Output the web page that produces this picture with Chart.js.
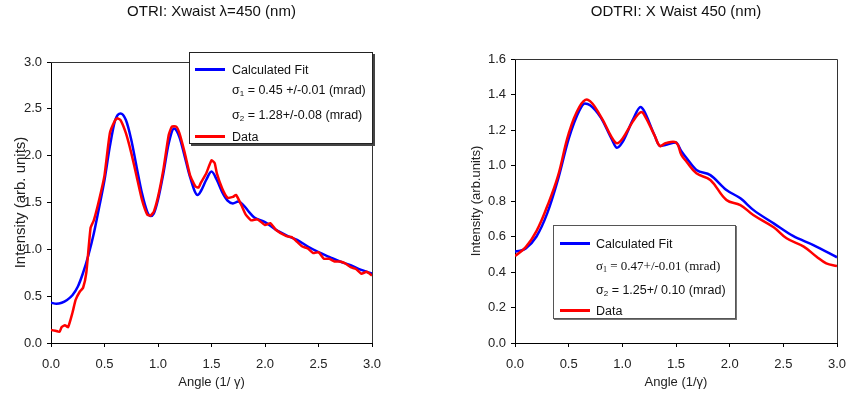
<!DOCTYPE html>
<html>
<head>
<meta charset="utf-8">
<script src="https://cdn.jsdelivr.net/npm/chart.js@4.4.1/dist/chart.umd.min.js"></script>
<style>
  body { margin:0; background:#fff; font-family:"Liberation Sans", Arial, sans-serif; }
  #wrap { position:relative; width:847px; height:400px; overflow:hidden; }
  .panel { position:absolute; top:0; height:400px; }
  .legend { position:absolute; background:#fff; border:1px solid #222; color:#111; }
  .legend .row { position:absolute; left:0; right:0; height:20px; line-height:20px; font-size:12.5px; white-space:nowrap; }
  .legend .swatch { position:absolute; top:8px; width:30px; height:3px; }
  .legend .txt { position:absolute; }
  .legend sub { font-size:8px; vertical-align:-2px; line-height:0; }
</style>
</head>
<body>
<div id="wrap">
  <div class="panel" style="left:0;width:424px">
    <canvas id="otriChart" width="424" height="400"></canvas>
    <div class="legend" style="left:189px;top:52px;width:182px;height:90px;box-shadow:2px 2px 0 #444">
      <div class="row" style="top:7px"><span class="swatch" style="left:5px;background:#0000ff"></span><span class="txt" style="left:42px">Calculated Fit</span></div>
      <div class="row" style="top:27px"><span class="txt" style="left:42px">σ<sub>1</sub> = 0.45 +/-0.01 (mrad)</span></div>
      <div class="row" style="top:52px"><span class="txt" style="left:42px">σ<sub>2</sub> = 1.28+/-0.08 (mrad)</span></div>
      <div class="row" style="top:74px"><span class="swatch" style="left:5px;background:#ff0000"></span><span class="txt" style="left:42px">Data</span></div>
    </div>
  </div>
  <div class="panel" style="left:424px;width:423px">
    <canvas id="odtriChart" width="423" height="400"></canvas>
    <div class="legend" style="left:129px;top:225px;width:181px;height:92px;border-color:#555;box-shadow:1px 1px 0 #777">
      <div class="row" style="top:8px"><span class="swatch" style="left:6px;background:#0000ff"></span><span class="txt" style="left:42px">Calculated Fit</span></div>
      <div class="row" style="top:30px"><span class="txt" style="left:42px;font-family:'Liberation Serif','Times New Roman',serif;font-size:13px">σ<sub>1</sub> = 0.47+/-0.01 (mrad)</span></div>
      <div class="row" style="top:54px"><span class="txt" style="left:42px">σ<sub>2</sub> = 1.25+/ 0.10 (mrad)</span></div>
      <div class="row" style="top:75px"><span class="swatch" style="left:6px;background:#ff0000"></span><span class="txt" style="left:42px">Data</span></div>
    </div>
  </div>
</div>
<script>
// ---- OTRI (left panel) ----
const otriFitAngle = [0,0.05,0.1,0.15,0.2,0.25,0.3,0.35,0.4,0.45,0.5,0.55,0.6,0.65,0.7,0.75,0.8,0.85,0.9,0.93,0.96,1.0,1.05,1.1,1.15,1.2,1.25,1.3,1.37,1.4,1.45,1.5,1.55,1.6,1.65,1.7,1.75,1.8,1.85,1.9,2.0,2.1,2.2,2.3,2.4,2.5,2.6,2.7,2.8,2.9,3.0];
const otriFit = [0.43,0.42,0.43,0.46,0.51,0.6,0.75,0.94,1.17,1.45,1.74,2.1,2.38,2.45,2.38,2.17,1.88,1.6,1.4,1.355,1.38,1.53,1.81,2.13,2.29,2.2,1.99,1.77,1.58,1.62,1.74,1.83,1.74,1.61,1.52,1.49,1.51,1.47,1.4,1.34,1.29,1.21,1.15,1.1,1.03,0.97,0.92,0.87,0.83,0.78,0.74];

const otriDataAngle = [0,0.04,0.08,0.1,0.13,0.16,0.2,0.23,0.27,0.3,0.33,0.37,0.4,0.45,0.5,0.55,0.6,0.62,0.65,0.7,0.75,0.8,0.85,0.9,0.93,0.96,1.0,1.05,1.1,1.13,1.17,1.2,1.25,1.3,1.35,1.38,1.4,1.45,1.5,1.53,1.55,1.6,1.65,1.7,1.73,1.78,1.82,1.87,1.93,2.0,2.05,2.1,2.2,2.25,2.3,2.35,2.4,2.45,2.5,2.55,2.6,2.65,2.7,2.75,2.8,2.85,2.9,2.95,3.0];
const otriData = [0.14,0.13,0.12,0.17,0.19,0.17,0.32,0.46,0.55,0.59,0.75,1.23,1.31,1.53,1.79,2.24,2.38,2.4,2.38,2.24,2.03,1.78,1.53,1.37,1.36,1.4,1.56,1.85,2.22,2.31,2.31,2.24,2.03,1.79,1.67,1.66,1.71,1.81,1.95,1.92,1.81,1.65,1.55,1.56,1.58,1.47,1.37,1.31,1.32,1.26,1.28,1.21,1.14,1.13,1.08,1.03,1.01,0.96,0.97,0.9,0.9,0.87,0.87,0.85,0.81,0.79,0.74,0.76,0.72];

// ---- ODTRI (right panel) ----
const odtriFitAngle = [0,0.05,0.1,0.2,0.3,0.4,0.5,0.6,0.65,0.7,0.8,0.9,0.95,1.0,1.1,1.17,1.2,1.3,1.35,1.4,1.5,1.55,1.6,1.69,1.82,1.97,2.1,2.22,2.41,2.59,2.78,3.0];
const odtriFit = [0.515,0.52,0.533,0.6,0.73,0.92,1.15,1.31,1.35,1.34,1.27,1.15,1.1,1.13,1.26,1.33,1.31,1.17,1.11,1.115,1.13,1.08,1.04,0.975,0.946,0.862,0.815,0.75,0.674,0.603,0.552,0.483];

const odtriDataAngle = [0,0.1,0.2,0.3,0.4,0.5,0.6,0.68,0.8,0.9,0.95,1.0,1.1,1.17,1.2,1.3,1.35,1.4,1.5,1.55,1.6,1.69,1.82,1.97,2.1,2.22,2.41,2.53,2.69,2.81,2.9,3.0];
const odtriData = [0.49,0.54,0.63,0.77,0.94,1.18,1.33,1.37,1.275,1.16,1.125,1.15,1.25,1.3,1.29,1.17,1.11,1.125,1.13,1.06,1.02,0.956,0.918,0.806,0.777,0.721,0.652,0.59,0.543,0.486,0.449,0.434];

// tick labels / ranges
const angleTicks = { min: 0, max: 3, step: 0.5 };
const otriTicks = { min: 0, max: 3, step: 0.5 };
const odtriTicks = { min: 0, max: 1.6, step: 0.2 };

const FONT = "'Liberation Sans', Arial, sans-serif";

// draws the top + right frame of the plot box
const frameBox = {
  id: "frameBox",
  afterDraw(chart, args, opts){
    const a = chart.chartArea, c = chart.ctx;
    c.save();
    c.strokeStyle = opts.color || "#333";
    c.lineWidth = 1;
    c.beginPath();
    c.moveTo(a.left, a.top + 0.5);
    c.lineTo(a.right + 0.5, a.top + 0.5);
    c.lineTo(a.right + 0.5, a.bottom);
    c.stroke();
    c.restore();
  }
};

function pts(xs, ys){ return xs.map((x, i) => ({ x: x, y: ys[i] })); }

function makeChart(id, cfg){
  const ctx = document.getElementById(id).getContext("2d");
  return new Chart(ctx, {
    type: "line",
    data: {
      datasets: [
        { label: "Data", data: pts(cfg.dataX, cfg.dataY), borderColor: "#ff0000", borderWidth: 2.5,
          pointRadius: 0, tension: cfg.dataTension, order: 0 },
        { label: "Calculated Fit", data: pts(cfg.fitX, cfg.fitY), borderColor: "#0000ff", borderWidth: 2.5,
          pointRadius: 0, tension: 0.4, cubicInterpolationMode: "monotone", order: 1 }
      ]
    },
    plugins: [frameBox],
    options: {
      responsive: false,
      animation: false,
      layout: { padding: { left: 0, right: cfg.padRight, top: 0, bottom: 0 } },
      plugins: {
        legend: { display: false },
        tooltip: { enabled: false },
        frameBox: { color: "#333" },
        title: {
          display: true,
          fullSize: false,
          text: cfg.title,
          color: "#111",
          font: { family: FONT, size: 15, weight: "normal" },
          padding: { top: 3, bottom: cfg.titleGap }
        }
      },
      scales: {
        x: {
          type: "linear",
          min: angleTicks.min, max: angleTicks.max,
          afterFit: s => { s.height = 57; s.paddingLeft = 0; s.paddingRight = 0; },
          border: { display: true, color: "#000", width: 1 },
          grid: { display: true, drawOnChartArea: false, drawTicks: true, tickLength: 4, color: "#000" },
          ticks: { stepSize: angleTicks.step, padding: 10, color: "#222", font: { family: FONT, size: 13 },
                   callback: v => Number(v).toFixed(1) },
          title: { display: true, text: cfg.xTitle, color: "#222", font: { family: FONT, size: 13 },
                   padding: { top: 0, bottom: 10 } }
        },
        y: {
          min: cfg.yTicks.min, max: cfg.yTicks.max,
          afterFit: s => { s.width = cfg.yWidth; s.paddingTop = 0; s.paddingBottom = 0; },
          border: { display: true, color: "#000", width: 1 },
          grid: { display: true, drawOnChartArea: false, drawTicks: true, tickLength: 4, color: "#000" },
          ticks: { stepSize: cfg.yTicks.step, padding: 5, color: "#222", font: { family: FONT, size: 13 },
                   callback: v => Number(v).toFixed(1) },
          title: { display: true, text: cfg.yTitle, color: "#222", font: { family: FONT, size: cfg.yTitleSize },
                   padding: { top: cfg.yTitlePad, bottom: 0 } }
        }
      }
    }
  });
}

const otriChart = makeChart("otriChart", {
  title: "OTRI: Xwaist λ=450 (nm)",
  xTitle: "Angle (1/ γ)",
  yTitle: "Intensity (arb. units)",
  yTitleSize: 15, yTitlePad: 12,
  fitX: otriFitAngle, fitY: otriFit,
  dataX: otriDataAngle, dataY: otriData, dataTension: 0.15,
  yTicks: otriTicks, yWidth: 51, padRight: 52, titleGap: 41
});

const odtriChart = makeChart("odtriChart", {
  title: "ODTRI: X Waist 450 (nm)",
  xTitle: "Angle (1/γ)",
  yTitle: "Intensity (arb.units)",
  yTitleSize: 13, yTitlePad: 45,
  fitX: odtriFitAngle, fitY: odtriFit,
  dataX: odtriDataAngle, dataY: odtriData, dataTension: 0.4,
  yTicks: odtriTicks, yWidth: 91, padRight: 10, titleGap: 38
});
</script>
</body>
</html>
